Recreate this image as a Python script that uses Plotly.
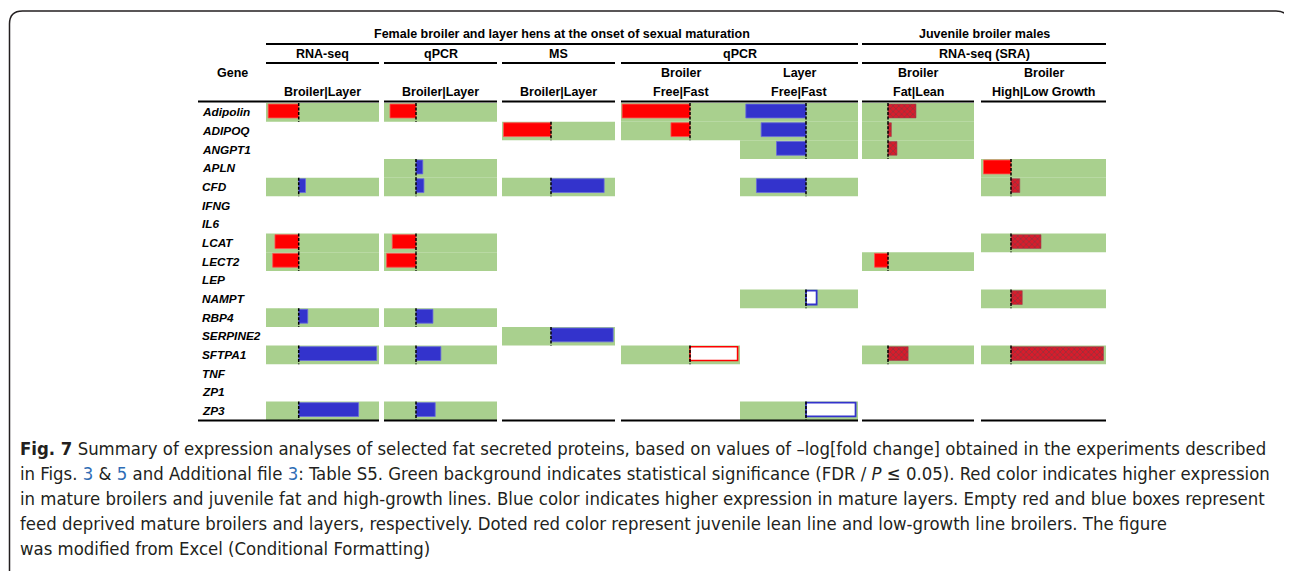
import plotly.graph_objects as go

# page body has an 8px margin; figure is sized so the picture fits the 1292x571 window
OFF = 8
W, H = 1292 - OFF, 571 - OFF

genes = ["Adipolin", "ADIPOQ", "ANGPT1", "APLN", "CFD", "IFNG", "IL6", "LCAT", "LECT2",
         "LEP", "NAMPT", "RBP4", "SERPINE2", "SFTPA1", "TNF", "ZP1", "ZP3"]

# values: relative -log[fold change] bar lengths (% of cell width); negative = left of axis
rnaseq_genes = ["Adipolin", "CFD", "LCAT", "LECT2", "RBP4", "SFTPA1", "ZP3"]
rnaseq_vals = [-27, 6, -21, -23, 8, 69, 53]

qpcr_genes = ["Adipolin", "APLN", "CFD", "LCAT", "LECT2", "RBP4", "SFTPA1", "ZP3"]
qpcr_vals = [-23, 6, 7, -21, -26, 15, 22, 17]

ms_genes = ["ADIPOQ", "CFD", "SERPINE2"]
ms_vals = [-42, 47, 55]

broiler_ff_genes = ["Adipolin", "ADIPOQ", "SFTPA1"]
broiler_ff_vals = [-57, -16, 40]

layer_ff_genes = ["Adipolin", "ADIPOQ", "ANGPT1", "CFD", "NAMPT", "ZP3"]
layer_ff_vals = [-51, -38, -25, -42, 9, 42]

fatlean_genes = ["Adipolin", "ADIPOQ", "ANGPT1", "LECT2", "SFTPA1"]
fatlean_vals = [25, 3, 8, -12, 18]

growth_genes = ["APLN", "CFD", "LCAT", "NAMPT", "SFTPA1"]
growth_vals = [-22, 7, 24, 9, 74]

GREEN = "#A9D08E"
RED = "#FF0000"
BLUE = "#3333CC"
FONT = "Liberation Sans, Arial, sans-serif"

# column layout: data, pixel left, pixel right, pixel axis, style for negative, style for positive
columns = [
    (rnaseq_genes, rnaseq_vals, 266, 379, 298.7, "red", "blue"),
    (qpcr_genes, qpcr_vals, 384, 497, 416, "red", "blue"),
    (ms_genes, ms_vals, 502, 615, 551, "red", "blue"),
    (broiler_ff_genes, broiler_ff_vals, 621, 740, 690, "red", "red_empty"),
    (layer_ff_genes, layer_ff_vals, 740, 858, 806, "blue", "blue_empty"),
    (fatlean_genes, fatlean_vals, 862, 974, 888, "red", "red_dot"),
    (growth_genes, growth_vals, 981, 1106, 1011, "red", "red_dot"),
]

def style_marker(style):
    if style == "red":
        return dict(color=RED, line=dict(color="#FF5050", width=0.8))
    if style == "blue":
        return dict(color=BLUE, line=dict(color="#6A6AE0", width=0.8))
    if style == "red_empty":
        return dict(color="white", line=dict(color=RED, width=1.6))
    if style == "blue_empty":
        return dict(color="white", line=dict(color=BLUE, width=1.8))
    if style == "red_dot":
        return dict(color="#D81C2C", line=dict(color="#A04050", width=0.6),
                    pattern=dict(shape="x", fgcolor="#4A4A4A", size=4, solidity=0.35,
                                 fillmode="overlay"))

def px(x):
    return (x - OFF) / W

def py(y):
    return 1 - (y - OFF) / H

fig = go.Figure()
layout_axes = {}
shapes = []

# invisible trace to register all categories
fig.add_trace(go.Scatter(x=[0] * len(genes), y=genes, mode="markers", marker=dict(opacity=0),
                         hoverinfo="skip", showlegend=False, xaxis="x", yaxis="y"))

for i, (g, v, x0, x1, mid, negs, poss) in enumerate(columns):
    n = i + 1
    axref = "x" if n == 1 else f"x{n}"
    axkey = "xaxis" if n == 1 else f"xaxis{n}"
    wpx = x1 - x0
    lo = -(mid - x0) / wpx * 100
    hi = (x1 - mid) / wpx * 100
    layout_axes[axkey] = dict(domain=[px(x0), px(x1)], range=[lo, hi], visible=False,
                              anchor="y", fixedrange=True)
    # significance background
    fig.add_trace(go.Bar(y=g, x=[hi - lo] * len(g), base=lo, orientation="h", width=1.0,
                         offset=-0.5, marker=dict(color=GREEN, line=dict(width=0)),
                         xaxis=axref, yaxis="y", showlegend=False, hoverinfo="skip"))
    # value bars grouped by style
    groups = {}
    for gg, vv in zip(g, v):
        st = negs if vv < 0 else poss
        groups.setdefault(st, ([], []))
        groups[st][0].append(gg)
        groups[st][1].append(vv)
    for st, (gg, vv) in groups.items():
        fig.add_trace(go.Bar(y=gg, x=vv, base=0, orientation="h", width=0.74, offset=-0.44,
                             marker=style_marker(st), xaxis=axref, yaxis="y",
                             showlegend=False))
    # dashed axis line on significant rows
    for gg in g:
        k = genes.index(gg)
        shapes.append(dict(type="line", xref=axref, yref="y", x0=0, x1=0, y0=k - 0.5, y1=k + 0.5,
                           line=dict(color="black", width=1.5, dash="3px,1.5px")))

# header rules
def hline(x0, x1, y, w=2):
    shapes.append(dict(type="line", xref="paper", yref="paper", x0=px(x0), x1=px(x1),
                       y0=py(y), y1=py(y), line=dict(color="black", width=w)))

for a, b in [(266, 858), (862, 1106)]:
    hline(a, b, 44)
for a, b in [(266, 379), (384, 497), (502, 615), (621, 858), (862, 1106)]:
    hline(a, b, 63)
for a, b in [(198, 379), (384, 497), (502, 615), (621, 858), (862, 974), (981, 1106)]:
    hline(a, b, 101.5)
for a, b in [(198, 379), (384, 497), (502, 615), (621, 858), (862, 974), (981, 1106)]:
    hline(a, b, 420.5)

# outer rounded frame
r = 13
L, R, T, B = 9.5, 1289, 11, 600
path = (f"M {px(L)},{py(B)} L {px(L)},{py(T + r)} Q {px(L)},{py(T)} {px(L + r)},{py(T)} "
        f"L {px(R - r)},{py(T)} Q {px(R)},{py(T)} {px(R)},{py(T + r)} L {px(R)},{py(B)}")
shapes.append(dict(type="path", xref="paper", yref="paper", path=path,
                   line=dict(color="#231F20", width=1.5)))

annotations = []

def text(x, y, s, size=12.5, anchor="center", color="black", family=FONT):
    annotations.append(dict(x=px(x), y=py(y), xref="paper", yref="paper", text=s,
                            showarrow=False, xanchor=anchor, yanchor="middle",
                            font=dict(family=family, size=size, color=color)))

text(562, 34, "<b>Female broiler and layer hens at the onset of sexual maturation</b>")
text(984, 34, "<b>Juvenile broiler males</b>")
text(322.5, 54, "<b>RNA-seq</b>")
text(440.5, 54, "<b>qPCR</b>")
text(558.5, 54, "<b>MS</b>")
text(739.5, 54, "<b>qPCR</b>")
text(984, 54, "<b>RNA-seq (SRA)</b>")
text(232.5, 73, "<b>Gene</b>")
for c in (322.5, 440.5, 558.5):
    text(c, 92, "<b>Broiler|Layer</b>")
text(680.5, 73, "<b>Broiler</b>")
text(680.5, 92, "<b>Free|Fast</b>")
text(799, 73, "<b>Layer</b>")
text(799, 92, "<b>Free|Fast</b>")
text(918, 73, "<b>Broiler</b>")
text(918, 92, "<b>Fat|Lean</b>")
text(1043.5, 73, "<b>Broiler</b>")
text(1043.5, 92, "<b>High|Low Growth</b>")

for gname in genes:
    annotations.append(dict(x=px(200), y=gname, xref="paper", yref="y", text=f"<b><i>{gname}</i></b>",
                            showarrow=False, xanchor="left", yanchor="middle",
                            font=dict(family=FONT, size=11.8, color="black")))

CAP = "Liberation Sans Narrow, DejaVu Sans Condensed, Arial Narrow, sans-serif"
LINK = "#2F6DB5"
cap_lines = [
    "<b>Fig. 7</b> Summary of expression analyses of selected fat secreted proteins, based on values of \u2013log[fold change] obtained in the experiments described",
    f"in Figs. <span style='color:{LINK}'>3</span> &amp; <span style='color:{LINK}'>5</span> and Additional file <span style='color:{LINK}'>3</span>: Table S5. Green background indicates statistical significance (FDR / <i>P</i> \u2264 0.05). Red color indicates higher expression",
    "in mature broilers and juvenile fat and high-growth lines. Blue color indicates higher expression in mature layers. Empty red and blue boxes represent",
    "feed deprived mature broilers and layers, respectively. Doted red color represent juvenile lean line and low-growth line broilers. The figure",
    "was modified from Excel (Conditional Formatting)",
]
for k, s in enumerate(cap_lines):
    text(18, 448 + 25 * k, s, size=18.4, anchor="left", color="#231F20", family=CAP)

fig.update_layout(
    width=W, height=H, margin=dict(l=0, r=0, t=0, b=0),
    paper_bgcolor="white", plot_bgcolor="white",
    barmode="overlay", showlegend=False,
    yaxis=dict(domain=[py(420.2), py(103)], type="category", categoryorder="array",
               categoryarray=genes, range=[16.5, -0.5], visible=False, fixedrange=True),
    shapes=shapes, annotations=annotations,
    **layout_axes,
)

fig.write_html("out.html")
